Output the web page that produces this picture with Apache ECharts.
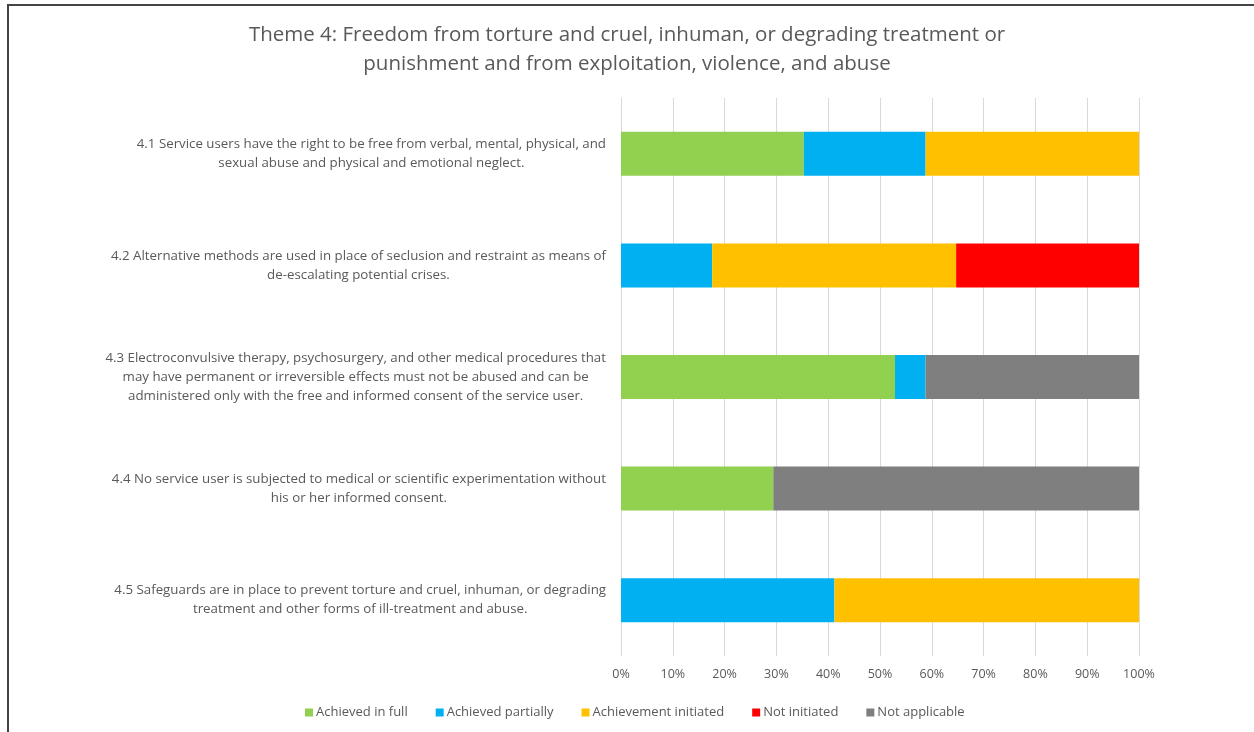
<!DOCTYPE html>
<html>
<head>
<meta charset="utf-8">
<script src="https://cdn.jsdelivr.net/npm/echarts@6/dist/echarts.min.js"></script>
<style>
  html, body { margin: 0; padding: 0; background: #fff; }
  #chart { width: 1254px; height: 732px; }
</style>
</head>
<body>
<div id="chart"></div>
<script>
var categories = [
    '4.1 Service users have the right to be free from verbal, mental, physical, and\nsexual abuse and physical and emotional neglect.',
    '4.2 Alternative methods are used in place of seclusion and restraint as means of\nde-escalating potential crises.',
    '4.3 Electroconvulsive therapy, psychosurgery, and other medical procedures that\nmay have permanent or irreversible effects must not be abused and can be\nadministered only with the free and informed consent of the service user.',
    '4.4 No service user is subjected to medical or scientific experimentation without\nhis or her informed consent.',
    '4.5 Safeguards are in place to prevent torture and cruel, inhuman, or degrading\ntreatment and other forms of ill-treatment and abuse.'
];

var achievedFull      = [35.3, 0, 52.9, 29.4, 0];
var achievedPartially = [23.5, 17.6, 5.9, 0, 41.2];
var achievementInit   = [41.2, 47.1, 0, 0, 58.8];
var notInitiated      = [0, 35.3, 0, 0, 0];
var notApplicable     = [0, 0, 41.2, 70.6, 0];

var seriesNames = ['Achieved in full', 'Achieved partially', 'Achievement initiated', 'Not initiated', 'Not applicable'];
var seriesColors = ['#92D050', '#00B0F0', '#FFC000', '#FF0000', '#7F7F7F'];
var seriesData = [achievedFull, achievedPartially, achievementInit, notInitiated, notApplicable];

var font = '"Open Sans", Lato, sans-serif';
var textColor = '#595959';

var chart = echarts.init(document.getElementById('chart'));

var series = [];
for (var i = 0; i < seriesNames.length; i++) {
    series.push({
        name: seriesNames[i],
        type: 'bar',
        stack: 'total',
        barWidth: 44,
        itemStyle: { color: seriesColors[i] },
        data: seriesData[i]
    });
}

chart.setOption({
    animation: false,
    textStyle: { fontFamily: font },
    title: {
        text: 'Theme 4: Freedom from torture and cruel, inhuman, or degrading treatment or\npunishment and from exploitation, violence, and abuse',
        left: 'center',
        top: 16,
        padding: [5, 0, 5, 10],
        textStyle: {
            fontFamily: font,
            fontSize: 20.5,
            fontWeight: 'normal',
            color: textColor,
            lineHeight: 29
        }
    },
    graphic: [{
        type: 'rect',
        shape: { x: 8, y: 5, width: 1400, height: 900 },
        style: { fill: 'none', stroke: '#444', lineWidth: 2 },
        silent: true
    }],
    legend: {
        left: 300,
        top: 701,
        icon: 'rect',
        itemWidth: 8,
        itemHeight: 8,
        itemGap: 28,
        textStyle: { fontFamily: font, fontSize: 13, color: textColor, padding: [0, 0, 0, -2] },
        data: seriesNames
    },
    grid: {
        left: 621,
        right: 115,
        top: 98,
        bottom: 76
    },
    xAxis: {
        type: 'value',
        min: 0,
        max: 100,
        interval: 10,
        axisLine: { show: false },
        axisTick: { show: false },
        splitLine: { lineStyle: { color: '#d9d9d9', width: 1 } },
        axisLabel: {
            formatter: '{value}%',
            color: textColor,
            fontSize: 12.5,
            fontFamily: font,
            margin: 12
        }
    },
    yAxis: {
        type: 'category',
        inverse: true,
        data: categories,
        axisLine: { show: true, lineStyle: { color: '#d9d9d9' } },
        axisTick: { show: false },
        axisLabel: {
            margin: 15,
            align: 'right',
            formatter: function (v) {
                return v.split('\n').map(function (s) { return '{a|' + s + '}'; }).join('\n');
            },
            rich: {
                a: {
                    align: 'center',
                    fontFamily: font,
                    fontSize: 13.3,
                    color: textColor,
                    lineHeight: 19
                }
            }
        }
    },
    series: series
});
</script>
</body>
</html>
